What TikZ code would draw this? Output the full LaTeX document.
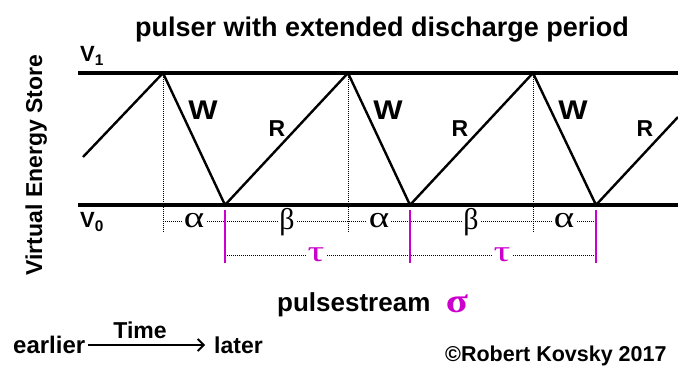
\documentclass[tikz,border=0pt]{standalone}
\usepackage{fontspec}
\setmainfont{Liberation Sans}
\newfontfamily\greekfont{Liberation Serif}
\usetikzlibrary{arrows.meta}
\definecolor{pulsemag}{HTML}{CC00CC}

\begin{document}
\begin{tikzpicture}[x=1pt,y=-1pt,>=Stealth,font=\bfseries,
  level/.style={line width=4pt},
  ramp/.style={line width=2.4pt,line join=miter},
  tick/.style={line width=1pt,dash pattern=on 1pt off 1pt},
  magbar/.style={pulsemag,line width=1.6pt},
  greek/.style={fill=white,inner sep=1pt,anchor=base,font=\greekfont\fontsize{30}{32}\selectfont},
  lbl/.style={inner sep=0pt,anchor=base}]
\useasboundingbox (0,0) rectangle (678,366);
% titles
\node[lbl,font=\bfseries\fontsize{27}{30}\selectfont] (title) at (382,37) {pulser with extended discharge period};
\node[lbl,rotate=90,font=\bfseries\fontsize{23}{26}\selectfont] (store) at (42,165) {Virtual Energy Store};
\node[lbl,anchor=base west,font=\bfseries\fontsize{22}{24}\selectfont] (vone) at (80,62) {V\textsubscript{1}};
\node[lbl,anchor=base west,font=\bfseries\fontsize{22}{24}\selectfont] (vzero) at (80,228) {V\textsubscript{0}};
% levels
\coordinate (topl) at (78,73); \coordinate (topr) at (678,73);
\coordinate (botl) at (78,205); \coordinate (botr) at (678,205);
\draw[level] (topl) -- (topr);
\draw[level] (botl) -- (botr);
% sawtooth
\coordinate (s0) at (83,157);
\coordinate (p1) at (163,73); \coordinate (t1) at (225,205);
\coordinate (p2) at (348,73); \coordinate (t2) at (410,205);
\coordinate (p3) at (533,73); \coordinate (t3) at (596,205);
\coordinate (s1) at (678,117);
\draw[ramp] (s0) -- (p1) -- (t1) -- (p2) -- (t2) -- (p3) -- (t3) -- (s1);
\node[lbl,xscale=1.15,font=\bfseries\fontsize{27}{28}\selectfont] (w1) at (203,120) {W};
\node[lbl,font=\bfseries\fontsize{23}{26}\selectfont] (r1) at (277,137) {R};
\node[lbl,xscale=1.15,font=\bfseries\fontsize{27}{28}\selectfont] (w2) at (388,120) {W};
\node[lbl,font=\bfseries\fontsize{23}{26}\selectfont] (r2) at (460,137) {R};
\node[lbl,xscale=1.15,font=\bfseries\fontsize{27}{28}\selectfont] (w3) at (573,120) {W};
\node[lbl,font=\bfseries\fontsize{23}{26}\selectfont] (r3) at (645,137) {R};
% intervals
\draw[tick] (p1) -- (163,233); \draw[tick] (p2) -- (348,233); \draw[tick] (p3) -- (533,233);
\draw[tick] (163,222) -- (596,222);
\draw[tick] (225,256) -- (596,256);
\draw[magbar] (225,210) -- (225,263); \draw[magbar] (410,210) -- (410,263); \draw[magbar] (596,210) -- (596,263);
\node[greek,xscale=1.3] (a1) at (194,228) {α};
\node[greek] (b1) at (287,230) {β};
\node[greek,xscale=1.3] (a2) at (379,228) {α};
\node[greek] (b2) at (471,230) {β};
\node[greek,xscale=1.3] (a3) at (564,228) {α};
\node[greek,xscale=1.4,text=pulsemag] (tau1) at (316,262) {τ};
\node[greek,xscale=1.4,text=pulsemag] (tau2) at (502,262) {τ};
% stream
\node[lbl,anchor=base west,font=\bfseries\fontsize{26}{28}\selectfont] (stream) at (277,312) {pulsestream};
\node[lbl,text=pulsemag,xscale=1.2,font=\greekfont\bfseries\fontsize{34}{36}\selectfont] (sigma) at (457,313) {σ};
% time axis
\node[lbl,anchor=base west,font=\bfseries\fontsize{24}{26}\selectfont] (early) at (13,353) {earlier};
\node[lbl,anchor=base west,font=\bfseries\fontsize{23}{26}\selectfont] (late) at (214,353) {later};
\draw[-{Straight Barb[length=6pt,width=12pt,line width=1.8pt]},line width=1.8pt] (early.east |- 0,345) ++(3,0) -- (205,345);
\node[lbl,font=\bfseries\fontsize{23}{26}\selectfont] (time) at (140,338) {Time};
\node[lbl,anchor=base west,font=\bfseries\fontsize{21.5}{24}\selectfont] (credit) at (445,361) {\textcopyright Robert Kovsky 2017};
\end{tikzpicture}
\end{document}
